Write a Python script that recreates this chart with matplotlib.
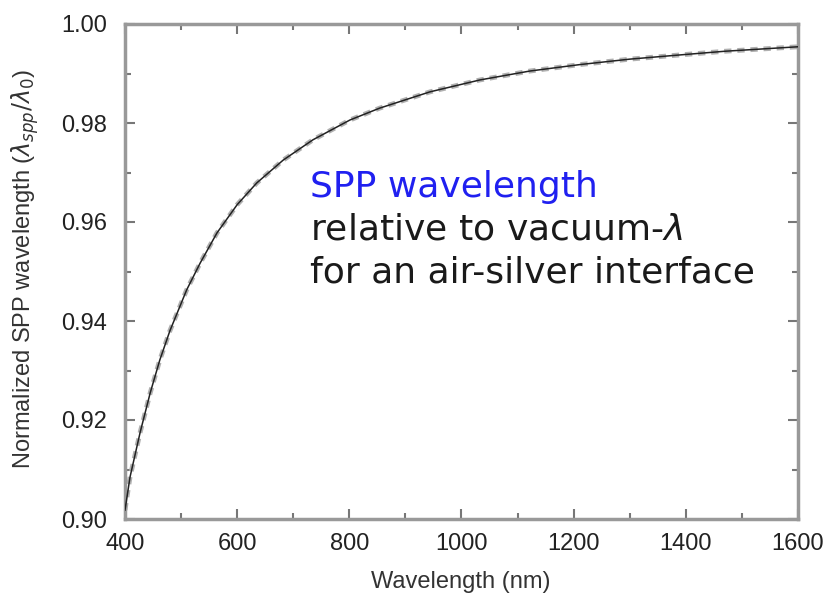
import matplotlib
matplotlib.use("Agg")
import matplotlib.pyplot as plt
from matplotlib.ticker import MultipleLocator

# values
wavelength = [400, 409, 427, 445, 462, 480, 510, 534, 564, 600, 635, 682, 735,
              801, 854, 944, 1033, 1122, 1211, 1300, 1384, 1470, 1600]
norm_spp = [0.9018, 0.9085, 0.9175, 0.9255, 0.9321, 0.9380, 0.9463, 0.9517,
            0.9578, 0.9635, 0.9679, 0.9725, 0.9766, 0.9806, 0.9830, 0.9863,
            0.9887, 0.9905, 0.9918, 0.9929, 0.9937, 0.9945, 0.9954]

W, H = 827, 602
fig = plt.figure(figsize=(W / 100, H / 100), dpi=100)
ax = fig.add_axes([125 / W, 1 - 519 / H, 673 / W, 495 / H])

ax.plot(wavelength, norm_spp, "--", color="#b0b0b0", lw=3.5, dashes=(1.5, 1.2), zorder=2)
ax.plot(wavelength, norm_spp, "-", color="#222222", lw=1.1, zorder=3)

ax.set_xlim(400, 1600)
ax.set_ylim(0.90, 1.00)
ax.xaxis.set_major_locator(MultipleLocator(200))
ax.xaxis.set_minor_locator(MultipleLocator(100))
ax.yaxis.set_major_locator(MultipleLocator(0.02))
ax.yaxis.set_minor_locator(MultipleLocator(0.01))
ax.yaxis.set_major_formatter(plt.FormatStrFormatter("%.2f"))

for s in ax.spines.values():
    s.set_color("#999999")
    s.set_linewidth(2.5)
ax.tick_params(which="both", direction="in", top=True, right=True, color="#777777")
ax.tick_params(which="major", length=7, width=1.5, labelsize=17)
ax.tick_params(which="minor", length=4, width=1.5)
ax.tick_params(axis="y", which="major", pad=13)
ax.tick_params(axis="x", which="major", pad=10)
for lab in ax.get_xticklabels() + ax.get_yticklabels():
    lab.set_family("Liberation Sans")
    lab.set_color("#222222")

ax.set_xlabel("Wavelength (nm)", fontsize=17, family="Liberation Sans", color="#333333")
ax.set_ylabel(r"Normalized SPP wavelength ($\lambda_{spp}/\lambda_0$)", fontsize=17,
              family="Liberation Sans", color="#333333")
ax.xaxis.set_label_coords(0.499, -0.105)
ax.yaxis.set_label_coords(-0.125, 0.505)

lines = ["SPP wavelength", r"relative to vacuum-$\lambda$", "for an air-silver interface"]
colors = ["#2020f0", "#1a1a1a", "#1a1a1a"]
for txt, c, y in zip(lines, colors, [187, 230, 272]):
    fig.text(310 / W, 1 - y / H, txt, fontsize=26, color=c, va="center", family="DejaVu Sans")

fig.savefig("out.png", dpi=100)
